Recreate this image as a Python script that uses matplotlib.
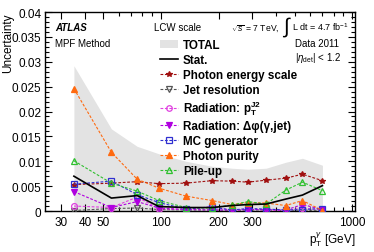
import matplotlib
matplotlib.use('Agg')
import matplotlib.pyplot as plt
from matplotlib.patches import Patch
from matplotlib.lines import Line2D
from matplotlib.ticker import MultipleLocator, LogLocator, NullFormatter, FixedLocator, FixedFormatter

plt.rcParams['font.family'] = ['Liberation Sans', 'DejaVu Sans']
plt.rcParams['mathtext.fontset'] = 'custom'
plt.rcParams['mathtext.rm'] = 'Liberation Sans'
plt.rcParams['mathtext.it'] = 'Liberation Sans:italic'
plt.rcParams['mathtext.bf'] = 'Liberation Sans:bold'

# Bin centres of photon pT [GeV]
pt = [35, 55, 75, 97.5, 135, 185, 235, 285, 355, 450, 550, 700]

total = [0.0292, 0.0165, 0.0130, 0.0115, 0.0100, 0.0090, 0.0086, 0.0084, 0.0086, 0.0098, 0.0106, 0.0092]
stat = [0.0070, 0.0026, 0.0031, 0.0009, 0.0007, 0.0007, 0.0011, 0.0013, 0.0014, 0.0024, 0.0032, 0.0051]
photon_scale = [0.0053, 0.0056, 0.0059, 0.0055, 0.0056, 0.0061, 0.0060, 0.0058, 0.0062, 0.0066, 0.0074, 0.0061]
jet_res = [0.0001, 0.0005, 0.0006, 0.0003, 0.0002, 0.0002, 0.0001, 0.0002, 0.0002, 0.0001, 0.0002, 0.0001]
rad_pt = [0.0010, 0.0007, 0.0028, 0.0005, 0.0003, 0.0009, 0.0001, 0.0004, 0.0002, 0.0001, 0.0006, 0.0002]
rad_dphi = [0.0039, 0.0007, 0.0019, 0.0006, 0.0003, 0.0002, 0.0002, 0.0003, 0.0003, 0.0002, 0.0013, 0.0003]
mc_gen = [0.0054, 0.0060, 0.0033, 0.0017, 0.0004, 0.0008, 0.0002, 0.0005, 0.0004, 0.0002, 0.0003, 0.0005]
purity = [0.0246, 0.0118, 0.0064, 0.0046, 0.0030, 0.0021, 0.0013, 0.0017, 0.0016, 0.0011, 0.0021, 0.0001]
pileup = [0.0101, 0.0056, 0.0040, 0.0021, 0.0007, 0.0006, 0.0012, 0.0019, 0.0014, 0.0042, 0.0058, 0.0041]

fig = plt.figure(figsize=(3.74, 2.53), dpi=100)
ax = fig.add_axes([0.1203, 0.162, 0.829, 0.7866])

ax.fill_between(pt, 0, total, color='#e3e3e3', lw=0, zorder=1)
ax.plot(pt, stat, color='black', lw=1.2, zorder=5)

dash = (0, (2.5, 1.5))
series = [
    (photon_scale, '#a01010', '*', True),
    (jet_res, '#555555', 'v', False),
    (rad_pt, '#e040e0', 'o', False),
    (rad_dphi, '#b000e0', 'v', True),
    (mc_gen, '#3030d0', 's', False),
    (purity, '#ff6a10', '^', True),
    (pileup, '#30c030', '^', False),
]
for vals, col, mk, filled in series:
    ax.plot(pt, vals, color=col, ls=dash, lw=0.8, marker=mk, ms=4.2,
            mfc=col if filled else 'none', mec=col, mew=0.9, zorder=4)

ax.set_xscale('log')
ax.set_xlim(24.7, 1037)
ax.set_ylim(0, 0.04)

ax.xaxis.set_major_locator(FixedLocator([30, 40, 50, 100, 200, 300, 1000]))
ax.xaxis.set_major_formatter(FixedFormatter(['30', '40', '50', '100', '200', '300', '1000']))
ax.xaxis.set_minor_locator(LogLocator(base=10, subs=range(2, 10)))
ax.xaxis.set_minor_formatter(NullFormatter())
ax.yaxis.set_minor_locator(MultipleLocator(0.001))
ax.set_yticks([0, 0.005, 0.01, 0.015, 0.02, 0.025, 0.03, 0.035, 0.04])
ax.set_yticklabels(['0', '0.005', '0.01', '0.015', '0.02', '0.025', '0.03', '0.035', '0.04'])

ax.tick_params(which='both', direction='in', top=True, right=True, labelsize=8.5, pad=2.5)
ax.tick_params(which='major', length=5, width=0.8)
ax.tick_params(which='minor', length=2.8, width=0.8)
ax.tick_params(axis='x', which='major', pad=3.5)
for s in ax.spines.values():
    s.set_linewidth(1.0)

ax.set_ylabel('Uncertainty', fontsize=8.5, loc='top')
ax.yaxis.set_label_coords(-0.1, 1.0)
ax.set_xlabel(r'$\mathrm{p}_{\mathrm{T}}^{\gamma}$ [GeV]', fontsize=8.5, loc='right')
ax.xaxis.set_label_coords(1.0, -0.09)

ax.text(0.032, 0.91, 'ATLAS', transform=ax.transAxes, fontsize=7, fontweight='bold', style='italic')
ax.text(0.032, 0.83, 'MPF Method', transform=ax.transAxes, fontsize=7)
ax.text(0.35, 0.91, 'LCW scale', transform=ax.transAxes, fontsize=7)
ax.text(0.6, 0.91, r'$\sqrt{s}$ = 7 TeV,', transform=ax.transAxes, fontsize=6.2)
ax.text(0.779, 0.928, r'$\int$', transform=ax.transAxes, fontsize=15, va='center', ha='center')
ax.text(0.797, 0.91, r'L dt = 4.7 fb$^{-1}$', transform=ax.transAxes, fontsize=6.5)
ax.text(0.805, 0.83, 'Data 2011', transform=ax.transAxes, fontsize=7)
ax.text(0.805, 0.76, r'|$\eta_{\mathrm{det}}$| < 1.2', transform=ax.transAxes, fontsize=7)

handles = [Patch(facecolor='#e3e3e3', edgecolor='none'),
           Line2D([], [], color='black', lw=1.2)]
for vals, col, mk, filled in series:
    handles.append(Line2D([], [], color=col, ls=dash, lw=0.8, marker=mk, ms=4,
                          mfc=col if filled else 'none', mec=col, mew=0.9))
labels = ['TOTAL', 'Stat.', 'Photon energy scale', 'Jet resolution',
          r'Radiation: $\mathbf{p}_{\mathbf{T}}^{\mathbf{J2}}$', 'Radiation: Δφ(γ,jet)',
          'MC generator', 'Photon purity', 'Pile-up']
ax.legend(handles, labels, loc='upper left', bbox_to_anchor=(0.37, 0.865), frameon=False,
          prop={'size': 8.4, 'weight': 'bold'}, handlelength=1.6, handletextpad=0.4,
          labelspacing=0.25, borderaxespad=0, borderpad=0)

fig.savefig('out.png', dpi=100)
